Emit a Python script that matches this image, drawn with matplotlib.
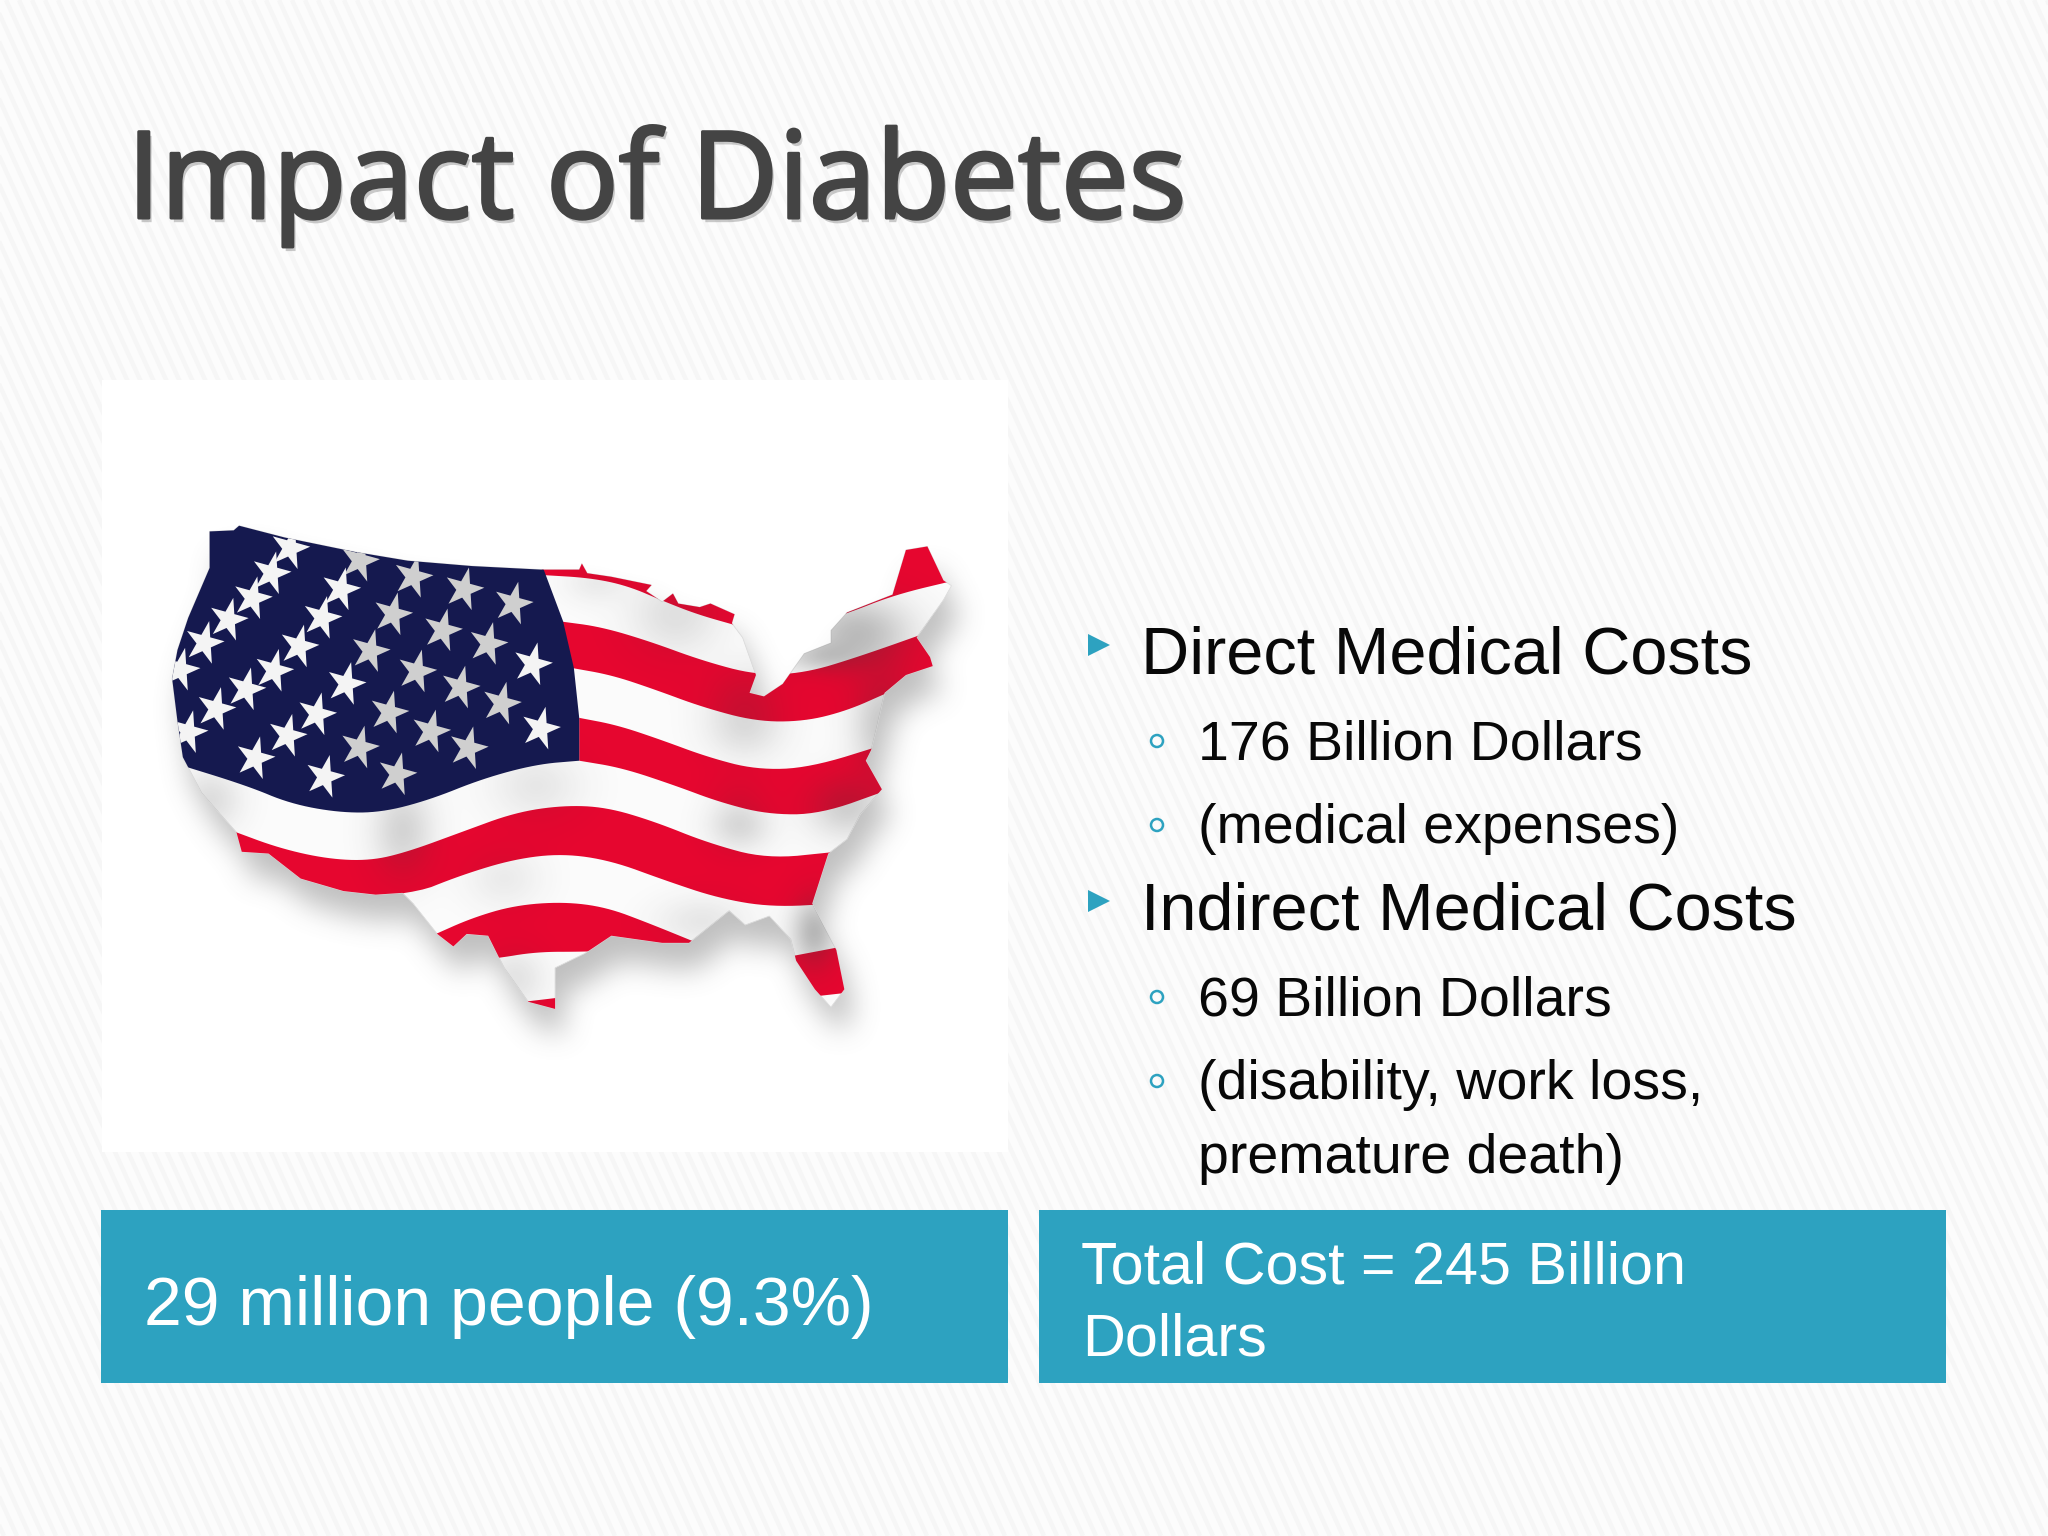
"""Impact of Diabetes slide, drawn in pixel coordinates."""
import matplotlib
matplotlib.use("Agg")
import matplotlib.pyplot as plt
import numpy as np
from matplotlib import patheffects as pe
from matplotlib.collections import LineCollection
from matplotlib.markers import MarkerStyle
from matplotlib.patches import Circle, Polygon, Rectangle
from matplotlib.path import Path
from matplotlib.transforms import Affine2D

TITLE = "Impact of Diabetes"
MAIN_BULLETS = ["Direct Medical Costs", "Indirect Medical Costs"]
SUB_BULLETS = ["176 Billion Dollars", "(medical expenses)", "69 Billion Dollars",
               "(disability, work loss,"]
SUB_CONT = "premature death)"
LEFT_BOX = "29 million people (9.3%)"
RIGHT_BOX = ["Total Cost = 245 Billion", "Dollars"]

# flag shapes, traced in a 1568x1568 view of the map region
OUTLINE = [(130, 88), (175, 85), (185, 72), (270, 105), (400, 145), (500, 170), (620, 185),
           (750, 195), (820, 195), (825, 178), (835, 205), (880, 215), (955, 238), (945, 255),
           (975, 285), (995, 262), (1005, 290), (1045, 300), (1065, 290), (1110, 320),
           (1105, 345), (1125, 385), (1150, 490), (1138, 540), (1165, 550), (1200, 515),
           (1240, 430), (1290, 400), (1290, 365), (1320, 315), (1405, 265), (1430, 140),
           (1470, 130), (1500, 225), (1515, 240), (1500, 280), (1450, 385), (1475, 440),
           (1480, 465), (1430, 490), (1390, 540), (1375, 640), (1365, 700), (1355, 730),
           (1385, 810), (1345, 880), (1320, 950), (1285, 990), (1255, 1130), (1300, 1260),
           (1315, 1370), (1290, 1420), (1260, 1370), (1225, 1290), (1215, 1230), (1175, 1165),
           (1130, 1190), (1100, 1150), (1025, 1240), (975, 1240), (880, 1220), (830, 1270),
           (775, 1310), (775, 1425), (725, 1405), (680, 1310), (650, 1220), (610, 1215),
           (585, 1250), (555, 1215), (510, 1130), (490, 1100), (440, 1105), (380, 1095),
           (300, 1060), (240, 990), (190, 985), (180, 930), (150, 880), (115, 820), (80, 720),
           (70, 620), (60, 500), (70, 420), (90, 330), (130, 190)]
CANTON_RIGHT = [(750, 180), (790, 340), (810, 470), (820, 610), (820, 730)]
CANTON_BOTTOM = [(820, 730), (740, 740), (640, 780), (540, 840), (450, 875), (370, 875),
                 (280, 850), (200, 800), (60, 735)]
CANTON_LEFT = [(40, 735), (40, 60), (750, 60)]
RED_STRIPES = [
    ([(750, 100), (1530, 100)],
     [(750, 210), (840, 218), (910, 240), (980, 285), (1040, 320), (1110, 350), (1170, 375),
      (1250, 350), (1320, 318), (1410, 265), (1530, 222)]),
    ([(785, 340), (860, 355), (950, 395), (1050, 450), (1150, 490), (1240, 485), (1340, 440),
      (1500, 355)],
     [(805, 470), (880, 490), (960, 530), (1050, 580), (1150, 620), (1240, 620), (1320, 590),
      (1395, 540), (1500, 470)]),
    ([(820, 610), (890, 630), (970, 670), (1060, 720), (1150, 755), (1250, 750), (1400, 680)],
     [(820, 730), (900, 750), (1000, 800), (1080, 845), (1170, 880), (1270, 880), (1400, 810)]),
    ([(170, 925), (260, 975), (350, 1005), (430, 1010), (500, 985), (600, 930), (700, 875),
      (790, 855), (870, 860), (960, 900), (1060, 960), (1170, 1005), (1300, 985)],
     [(170, 1130), (500, 1110), (600, 1050), (700, 1005), (790, 990), (880, 1010), (980, 1065),
      (1080, 1115), (1180, 1140), (1300, 1130)]),
    ([(545, 1220), (620, 1170), (700, 1135), (790, 1125), (870, 1140), (950, 1185), (1040, 1240)],
     [(545, 1300), (660, 1285), (740, 1265), (830, 1265), (900, 1260), (1040, 1260)]),
    ([(700, 1408), (790, 1392)], [(700, 1440), (790, 1440)]),
    ([(1200, 1282), (1330, 1245)], [(1200, 1400), (1330, 1378)]),
]
STARS_X = [280, 410, 510, 605, 697, 245, 375, 210, 340, 472, 565, 650, 165, 297, 430, 517, 598,
           733, 120, 250, 385, 675, 198, 330, 465, 543, 748, 142, 275, 410, 613, 90, 215, 345,
           480, 75]
STARS_Y = [135, 170, 215, 250, 290, 205, 250, 275, 330, 320, 365, 403, 335, 410, 423, 480, 525,
           460, 400, 478, 515, 570, 530, 600, 595, 648, 640, 585, 660, 693, 695, 650, 723, 775,
           768, 475]
# x, y, x spread, y spread, strength of the soft folds on the flag
FOLDS = [(490, 925, 40, 90, 0.20), (740, 800, 60, 70, 0.10), (1120, 910, 40, 50, 0.18),
         (1320, 860, 50, 60, 0.22), (1000, 320, 60, 80, 0.14), (1340, 370, 70, 70, 0.32),
         (1270, 440, 50, 30, 0.18), (1390, 630, 40, 100, 0.26), (1130, 640, 50, 60, 0.14),
         (1130, 540, 50, 60, 0.10), (1260, 1210, 30, 70, 0.35), (680, 1060, 50, 60, 0.08),
         (1050, 1180, 60, 50, 0.10), (850, 230, 40, 40, 0.08), (130, 840, 40, 60, 0.15),
         (1120, 810, 40, 40, 0.04), (700, 1340, 40, 60, 0.12)]

NAVY = "#15194f"
RED = "#e6062f"
TEAL = "#2da2c0"
TEXT = "#080808"


def to_px(points):
    """Map traced map coordinates to slide pixels."""
    pts = np.asarray(points, dtype=float)
    return np.column_stack([140 + pts[:, 0] / 1.867, 500 + pts[:, 1] / 2.8])


def smooth(points, rounds=3):
    """Chaikin corner cutting, keeps both ends."""
    pts = np.asarray(points, dtype=float)
    for _ in range(rounds):
        q = 0.75 * pts[:-1] + 0.25 * pts[1:]
        r = 0.25 * pts[:-1] + 0.75 * pts[1:]
        mid = np.empty((len(q) * 2, 2))
        mid[0::2] = q
        mid[1::2] = r
        pts = np.vstack([pts[0], mid, pts[-1]])
    return pts


def box_blur(img, size, passes=3):
    """Separable box blur, close enough to a gaussian after three passes."""
    kernel = np.ones(size) / size
    for _ in range(passes):
        img = np.apply_along_axis(lambda v: np.convolve(v, kernel, mode="same"), 0, img)
        img = np.apply_along_axis(lambda v: np.convolve(v, kernel, mode="same"), 1, img)
    return img


fig = plt.figure(figsize=(20.48, 15.36), dpi=100)
ax = fig.add_axes([0, 0, 1, 1])
fig.patch.set_facecolor("#fcfcfc")

# faint diagonal weave of the slide background
offsets = np.arange(-800, 2100, 13)
segs = [[(o, 0), (o + 700, 1536)] for o in offsets]
ax.add_collection(LineCollection(segs, colors="#f6f6f6", linewidths=3.2, zorder=0))

ax.add_patch(Rectangle((102, 380), 906, 772, fc="white", ec="none", zorder=1))

# soft drop shadow under the map
outline_px = to_px(OUTLINE)
sx, sy = np.meshgrid(np.arange(102, 1008, 3.0), np.arange(480, 1152, 3.0))
inside = Path(outline_px + [8, 24]).contains_points(np.column_stack([sx.ravel(), sy.ravel()]))
soft = box_blur(inside.reshape(sx.shape).astype(float), 9)
shadow = np.zeros(soft.shape + (4,))
shadow[..., :3] = 0.45
shadow[..., 3] = soft * 0.45
ax.imshow(shadow, extent=(102, 1008, 1152, 480), aspect="auto", interpolation="bilinear", zorder=2)

flag = Polygon(outline_px, closed=True, fc="#fbfbfb", ec="#dddddd", lw=0.6, zorder=3)
ax.add_patch(flag)

for top, bottom in RED_STRIPES:
    poly = np.vstack([smooth(to_px(top)), smooth(to_px(bottom))[::-1]])
    p = Polygon(poly, closed=True, fc=RED, ec="none", zorder=4)
    ax.add_patch(p)
    p.set_clip_path(flag)

# folds as a translucent grey layer
gx, gy = np.meshgrid(np.linspace(0, 1568, 420), np.linspace(0, 1568, 420))
shade = np.zeros_like(gx)
for fx, fy, fsx, fsy, amount in FOLDS:
    shade += amount * np.exp(-((gx - fx) / fsx) ** 2 / 2 - ((gy - fy) / fsy) ** 2 / 2)
rgba = np.zeros(shade.shape + (4,))
rgba[..., :3] = 0.22
rgba[..., 3] = np.clip(shade, 0, 0.6)
extent = (140, 140 + 1568 / 1.867, 500 + 1568 / 2.8, 500)
fold_img = ax.imshow(rgba, extent=extent, aspect="auto", interpolation="bilinear", zorder=5)
fold_img.set_clip_path(flag)

canton_poly = np.vstack([to_px(CANTON_RIGHT), smooth(to_px(CANTON_BOTTOM), 3), to_px(CANTON_LEFT)])
canton = Polygon(canton_poly, closed=True, fc=NAVY, ec="none", zorder=6)
ax.add_patch(canton)
canton.set_clip_path(flag)

stars_px = to_px(np.column_stack([STARS_X, STARS_Y]))
star = MarkerStyle("*", transform=Affine2D().rotate_deg(-14).scale(0.95, 1.05))
star_colors = ["#cfcfcf" if 400 < x < 700 else "#f4f4f4" for x in STARS_X]
stars = ax.scatter(stars_px[:, 0], stars_px[:, 1], s=950, marker=star, c=star_colors,
                   linewidths=0, zorder=7)
stars.set_clip_path(flag)

# title
ax.text(127, 218, TITLE, family="Open Sans", fontsize=87, color="#444444", va="baseline",
        path_effects=[pe.withSimplePatchShadow(offset=(2, -3), shadow_rgbFace="#555555", alpha=0.3),
                      pe.withStroke(linewidth=2.2, foreground="#444444")], zorder=8)

# bullets
main_y = [673, 929]
for label, y in zip(MAIN_BULLETS, main_y):
    ax.add_patch(Polygon([(1088, y - 39), (1110, y - 28), (1088, y - 17)], closed=True,
                         fc=TEAL, ec="none", zorder=8))
    ax.text(1141, y, label, family="Liberation Sans", fontsize=48, color=TEXT, va="baseline", zorder=8)

sub_y = [759, 843, 1015, 1099]
for label, y in zip(SUB_BULLETS, sub_y):
    ax.add_patch(Circle((1157, y - 18), 6, fc="none", ec=TEAL, lw=1.8, zorder=8))
    ax.text(1198, y, label, family="Liberation Sans", fontsize=40, color=TEXT, va="baseline", zorder=8)
ax.text(1198, 1173, SUB_CONT, family="Liberation Sans", fontsize=40, color=TEXT, va="baseline", zorder=8)

# teal boxes
ax.add_patch(Rectangle((101, 1210), 907, 173, fc=TEAL, ec="none", zorder=8))
ax.add_patch(Rectangle((1039, 1210), 907, 173, fc=TEAL, ec="none", zorder=8))
ax.text(144, 1325, LEFT_BOX, family="Liberation Sans", fontsize=49, color="white", va="baseline", zorder=9)
ax.text(1081, 1284, RIGHT_BOX[0], family="Liberation Sans", fontsize=42.7, color="white", va="baseline", zorder=9)
ax.text(1082, 1355, RIGHT_BOX[1], family="Liberation Sans", fontsize=42.7, color="white", va="baseline", zorder=9)

ax.set_xlim(0, 2048)
ax.set_ylim(1536, 0)
ax.axis("off")

fig.savefig("out.png", dpi=100, facecolor=fig.get_facecolor())
plt.close(fig)
